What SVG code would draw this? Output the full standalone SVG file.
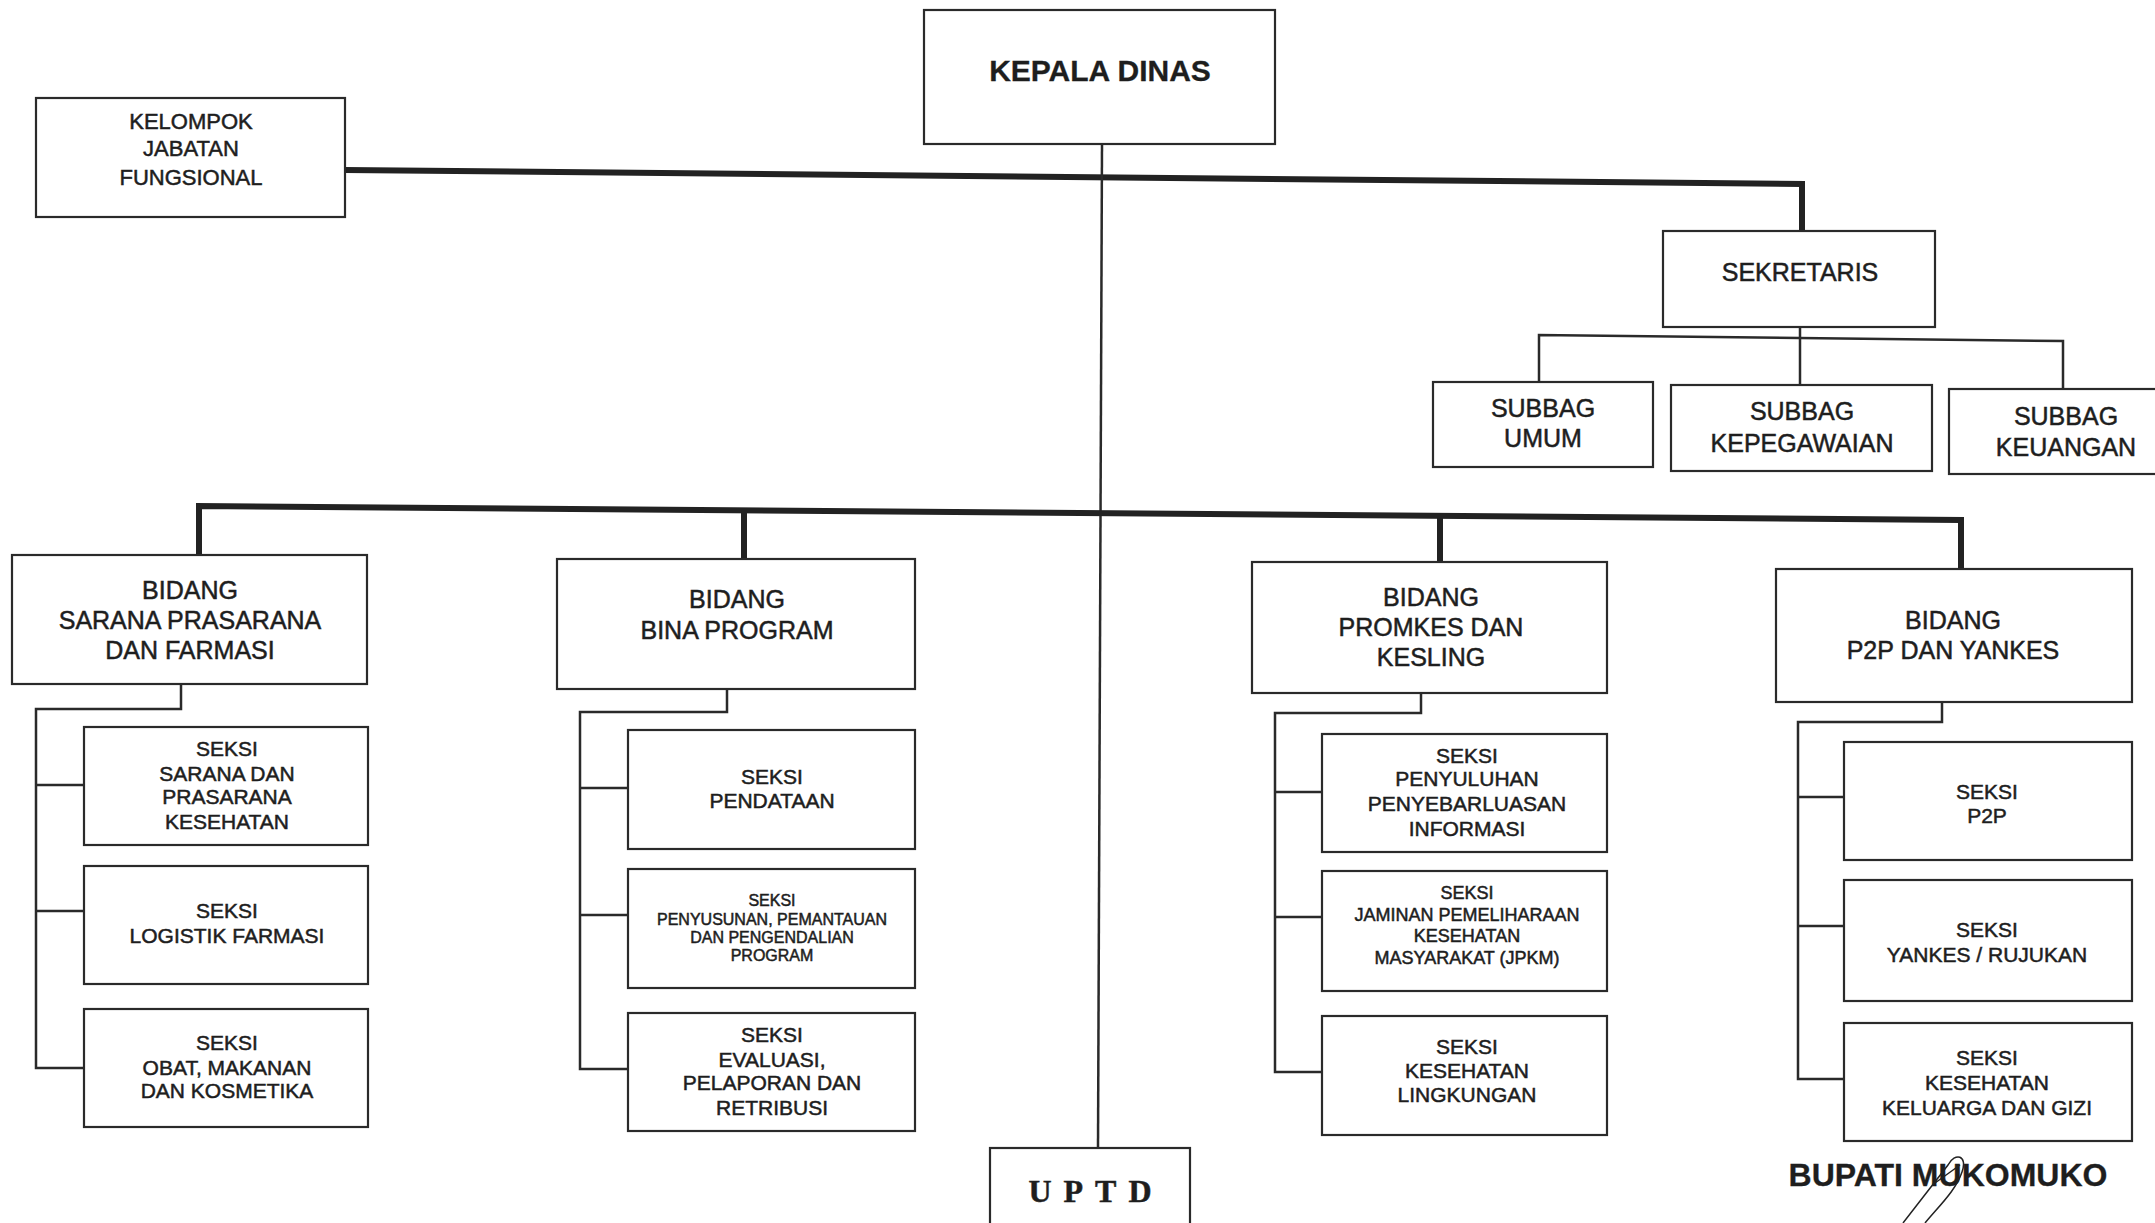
<svg xmlns="http://www.w3.org/2000/svg" width="2155" height="1223" viewBox="0 0 2155 1223">
<style>
.box{fill:#fff;stroke:#2a2a2a;stroke-width:2.2}
.thick{fill:none;stroke:#222;stroke-width:6}
.thin{fill:none;stroke:#2a2a2a;stroke-width:2.5}
text{font-family:"Liberation Sans",Arial,sans-serif;fill:#1e1e1e;stroke:#1e1e1e;stroke-width:0.5;text-anchor:middle}
.t22{font-size:22px}
.t25{font-size:25px}
.t21{font-size:21px}
.t18{font-size:18px}
.t16{font-size:16px}
.bold{font-weight:bold;stroke-width:0.3}
.serif{font-family:"Liberation Serif",serif;font-weight:bold}
</style>
<rect width="2155" height="1223" fill="#fff"/>
<g id="connectors">
  <path class="thick" d="M345 170 L1802 184 L1802 231"/>
  <path class="thin" d="M1102 144 L1098 1148"/>
  <path class="thin" d="M1800 327 L1800 385"/>
  <path class="thin" d="M1539 382 L1539 335 L2063 341 L2063 389"/>
  <path class="thick" d="M199 555 L199 506 L1961 520 L1961 568"/>
  <path class="thick" d="M744 510 L744 559"/>
  <path class="thick" d="M1440 515 L1440 561"/>
  <path class="thin" d="M181 684 L181 709 L36 709 L36 1068 L84 1068 M36 785 L84 785 M36 911 L84 911"/>
  <path class="thin" d="M727 689 L727 712 L580 712 L580 1069 L628 1069 M580 788 L628 788 M580 915 L628 915"/>
  <path class="thin" d="M1421 693 L1421 713 L1275 713 L1275 1072 L1322 1072 M1275 792 L1322 792 M1275 917 L1322 917"/>
  <path class="thin" d="M1942 702 L1942 722 L1798 722 L1798 1079 L1844 1079 M1798 797 L1844 797 M1798 926 L1844 926"/>
</g>
<g id="kepala-dinas">
  <rect class="box" x="924" y="10" width="351" height="134" stroke-width="3"/>
  <text class="bold" x="1100" y="81" font-size="30">KEPALA DINAS</text>
</g>
<g id="kelompok">
  <rect class="box" x="36" y="98" width="309" height="119"/>
  <text class="t22" x="191" y="129">KELOMPOK</text>
  <text class="t22" x="191" y="156">JABATAN</text>
  <text class="t22" x="191" y="185">FUNGSIONAL</text>
</g>
<g id="sekretaris">
  <rect class="box" x="1663" y="231" width="272" height="96"/>
  <text class="t25" x="1800" y="281">SEKRETARIS</text>
</g>
<g id="subbag-umum">
  <rect class="box" x="1433" y="382" width="220" height="85"/>
  <text class="t25" x="1543" y="417">SUBBAG</text>
  <text class="t25" x="1543" y="447">UMUM</text>
</g>
<g id="subbag-kepegawaian">
  <rect class="box" x="1671" y="385" width="261" height="86"/>
  <text class="t25" x="1802" y="420">SUBBAG</text>
  <text class="t25" x="1802" y="452">KEPEGAWAIAN</text>
</g>
<g id="subbag-keuangan">
  <rect class="box" x="1949" y="389" width="220" height="85"/>
  <text class="t25" x="2066" y="425">SUBBAG</text>
  <text class="t25" x="2066" y="456">KEUANGAN</text>
</g>
<g id="bidang-sarana">
  <rect class="box" x="12" y="555" width="355" height="129"/>
  <text class="t25" x="190" y="599">BIDANG</text>
  <text class="t25" x="190" y="629">SARANA PRASARANA</text>
  <text class="t25" x="190" y="659">DAN FARMASI</text>
</g>
<g id="bidang-bina">
  <rect class="box" x="557" y="559" width="358" height="130"/>
  <text class="t25" x="737" y="608">BIDANG</text>
  <text class="t25" x="737" y="639">BINA PROGRAM</text>
</g>
<g id="bidang-promkes">
  <rect class="box" x="1252" y="562" width="355" height="131"/>
  <text class="t25" x="1431" y="606">BIDANG</text>
  <text class="t25" x="1431" y="636">PROMKES DAN</text>
  <text class="t25" x="1431" y="666">KESLING</text>
</g>
<g id="bidang-p2p">
  <rect class="box" x="1776" y="569" width="356" height="133"/>
  <text class="t25" x="1953" y="629">BIDANG</text>
  <text class="t25" x="1953" y="659">P2P DAN YANKES</text>
</g>
<g id="seksi-sarana">
  <rect class="box" x="84" y="727" width="284" height="118"/>
  <text class="t21" x="227" y="756">SEKSI</text>
  <text class="t21" x="227" y="781">SARANA DAN</text>
  <text class="t21" x="227" y="804">PRASARANA</text>
  <text class="t21" x="227" y="829">KESEHATAN</text>
</g>
<g id="seksi-logistik">
  <rect class="box" x="84" y="866" width="284" height="118"/>
  <text class="t21" x="227" y="918">SEKSI</text>
  <text class="t21" x="227" y="943">LOGISTIK FARMASI</text>
</g>
<g id="seksi-obat">
  <rect class="box" x="84" y="1009" width="284" height="118"/>
  <text class="t21" x="227" y="1050">SEKSI</text>
  <text class="t21" x="227" y="1075">OBAT, MAKANAN</text>
  <text class="t21" x="227" y="1098">DAN KOSMETIKA</text>
</g>
<g id="seksi-pendataan">
  <rect class="box" x="628" y="730" width="287" height="119"/>
  <text class="t21" x="772" y="784">SEKSI</text>
  <text class="t21" x="772" y="808">PENDATAAN</text>
</g>
<g id="seksi-penyusunan">
  <rect class="box" x="628" y="869" width="287" height="119"/>
  <text class="t16" x="772" y="906">SEKSI</text>
  <text class="t16" x="772" y="925">PENYUSUNAN, PEMANTAUAN</text>
  <text class="t16" x="772" y="943">DAN PENGENDALIAN</text>
  <text class="t16" x="772" y="961">PROGRAM</text>
</g>
<g id="seksi-evaluasi">
  <rect class="box" x="628" y="1013" width="287" height="118"/>
  <text class="t21" x="772" y="1042">SEKSI</text>
  <text class="t21" x="772" y="1067">EVALUASI,</text>
  <text class="t21" x="772" y="1090">PELAPORAN DAN</text>
  <text class="t21" x="772" y="1115">RETRIBUSI</text>
</g>
<g id="seksi-penyuluhan">
  <rect class="box" x="1322" y="734" width="285" height="118"/>
  <text class="t21" x="1467" y="763">SEKSI</text>
  <text class="t21" x="1467" y="786">PENYULUHAN</text>
  <text class="t21" x="1467" y="811">PENYEBARLUASAN</text>
  <text class="t21" x="1467" y="836">INFORMASI</text>
</g>
<g id="seksi-jpkm">
  <rect class="box" x="1322" y="871" width="285" height="120"/>
  <text class="t18" x="1467" y="899">SEKSI</text>
  <text class="t18" x="1467" y="921">JAMINAN PEMELIHARAAN</text>
  <text class="t18" x="1467" y="942">KESEHATAN</text>
  <text class="t18" x="1467" y="964">MASYARAKAT (JPKM)</text>
</g>
<g id="seksi-kesling">
  <rect class="box" x="1322" y="1016" width="285" height="119"/>
  <text class="t21" x="1467" y="1054">SEKSI</text>
  <text class="t21" x="1467" y="1078">KESEHATAN</text>
  <text class="t21" x="1467" y="1102">LINGKUNGAN</text>
</g>
<g id="seksi-p2p">
  <rect class="box" x="1844" y="742" width="288" height="118"/>
  <text class="t21" x="1987" y="799">SEKSI</text>
  <text class="t21" x="1987" y="823">P2P</text>
</g>
<g id="seksi-yankes">
  <rect class="box" x="1844" y="880" width="288" height="121"/>
  <text class="t21" x="1987" y="937">SEKSI</text>
  <text class="t21" x="1987" y="962">YANKES / RUJUKAN</text>
</g>
<g id="seksi-gizi">
  <rect class="box" x="1844" y="1023" width="288" height="118"/>
  <text class="t21" x="1987" y="1065">SEKSI</text>
  <text class="t21" x="1987" y="1090">KESEHATAN</text>
  <text class="t21" x="1987" y="1115">KELUARGA DAN GIZI</text>
</g>
<g id="uptd">
  <rect class="box" x="990" y="1148" width="200" height="90" stroke-width="3"/>
  <text class="serif" x="1096" y="1202" font-size="32" letter-spacing="12">UPTD</text>
</g>
<g id="bupati">
  <text class="bold" x="1948" y="1186" font-size="32">BUPATI MUKOMUKO</text>
  <path fill="none" stroke="#222" stroke-width="1.5" d="M1903 1223 L1948 1165 C1955 1152 1968 1155 1962 1172 C1956 1190 1940 1205 1925 1223 M1935 1183 L1960 1165"/>
</g>
</svg>
